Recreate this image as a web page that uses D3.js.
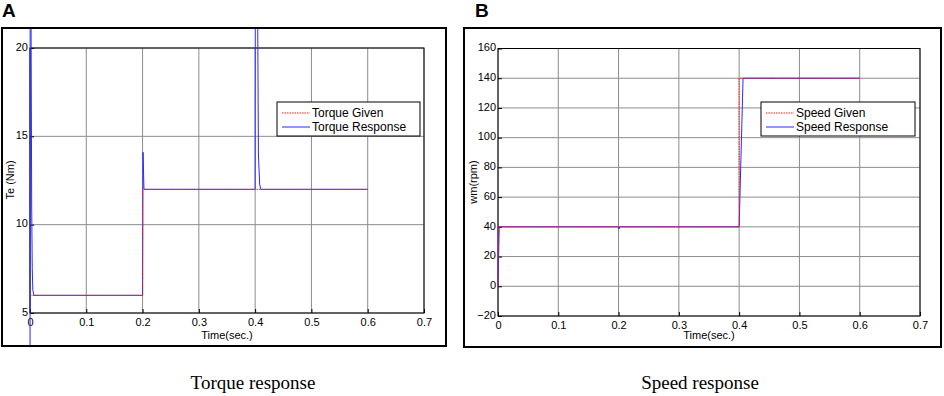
<!DOCTYPE html>
<html>
<head>
<meta charset="utf-8">
<script src="https://cdn.jsdelivr.net/npm/d3@7"></script>
<style>
  body { margin: 0; background: #fff; }
  svg { display: block; font-family: "Liberation Sans", Arial, sans-serif; }
</style>
</head>
<body>
<div id="chart"></div>
<script>
// ---- data ----
const xTicks = [0, 0.1, 0.2, 0.3, 0.4, 0.5, 0.6, 0.7];

// panel A: torque
const torqueTicks = [5, 10, 15, 20];
const torqueGivenT = [0, 0.2, 0.2, 0.6];
const torqueGivenV = [6, 6, 12, 12];
const torqueRespT = [0, 0.0005, 0.002, 0.003, 0.004, 0.005, 0.007, 0.2, 0.2008, 0.2025, 0.4, 0.4008, 0.4058, 0.408, 0.41, 0.6];
const torqueRespV = [-3, 40, 20, 11, 7.5, 6.3, 6, 6, 14.1, 12, 12, 45, 14, 12.3, 12, 12];

// panel B: speed
const speedTicks = [-20, 0, 20, 40, 60, 80, 100, 120, 140, 160];
const speedGivenT = [0, 0, 0.4, 0.4, 0.6];
const speedGivenV = [0, 40, 40, 140, 140];
const speedRespT = [0, 0.002, 0.2, 0.2006, 0.202, 0.4, 0.4065, 0.6];
const speedRespV = [0, 40, 40, 38.5, 40, 40, 140, 140];

const W = 944, H = 396;
const svg = d3.select("#chart").append("svg")
    .attr("width", W)
    .attr("height", H);

function drawPanel(p) {
    let g = svg.append("g");

    // outer frame
    g.append("rect")
        .attr("x", p.frame[0]).attr("y", p.frame[1])
        .attr("width", p.frame[2] - p.frame[0]).attr("height", p.frame[3] - p.frame[1])
        .attr("fill", "#fff").attr("stroke", "#000").attr("stroke-width", 2);

    // panel letter
    g.append("text")
        .attr("x", p.letterX).attr("y", 17)
        .attr("font-size", "19px").attr("font-weight", "bold")
        .text(p.letter);

    let x = d3.scaleLinear().domain([0, 0.7]).range(p.xRange);
    let y = d3.scaleLinear().domain(p.yDomain).range(p.yRange);

    // grid
    g.append("g").selectAll("line.vg").data(xTicks).join("line")
        .attr("x1", d => x(d)).attr("x2", d => x(d))
        .attr("y1", y.range()[0]).attr("y2", y.range()[1])
        .attr("stroke", "#8c8c8c").attr("stroke-width", 1);
    g.append("g").selectAll("line.hg").data(p.yTicks).join("line")
        .attr("x1", x.range()[0]).attr("x2", x.range()[1])
        .attr("y1", d => y(d)).attr("y2", d => y(d))
        .attr("stroke", "#8c8c8c").attr("stroke-width", 1);

    // axes, ticks inward like matlab
    let xAxis = g.append("g")
        .attr("transform", `translate(0,${y.range()[0]})`)
        .call(d3.axisBottom(x).tickValues(xTicks).tickSize(-4).tickPadding(7).tickFormat(d3.format("")));
    let yAxis = g.append("g")
        .attr("transform", `translate(${x.range()[0]},0)`)
        .call(d3.axisLeft(y).tickValues(p.yTicks).tickSize(-4).tickPadding(2));
    [xAxis, yAxis].forEach(a => {
        a.select(".domain").remove();
        a.selectAll("text").attr("font-size", "11px").attr("fill", "#000")
            .attr("font-family", "Liberation Sans, Arial, sans-serif");
        a.selectAll("line").attr("stroke", "#000");
    });
    yAxis.selectAll("text").attr("dy", "0.2em");
    xAxis.selectAll("text").attr("dy", "0.55em");

    // axes box
    g.append("rect")
        .attr("x", x.range()[0]).attr("y", y.range()[1])
        .attr("width", x.range()[1] - x.range()[0]).attr("height", y.range()[0] - y.range()[1])
        .attr("fill", "none").attr("stroke", "#000").attr("stroke-width", 1);

    // clip lines to inside of frame (they overshoot the axes as in the picture)
    let clipId = "clip" + p.letter;
    svg.append("clipPath").attr("id", clipId).append("rect")
        .attr("x", p.frame[0] + 1).attr("y", p.frame[1] + 1)
        .attr("width", p.frame[2] - p.frame[0] - 2).attr("height", p.frame[3] - p.frame[1] - 2);

    let line = d3.line().x(d => x(d[0])).y(d => y(d[1]));
    let given = p.givenT.map((t, i) => [t, p.givenV[i]]);
    let resp = p.respT.map((t, i) => [t, p.respV[i]]);

    let lines = g.append("g").attr("clip-path", `url(#${clipId})`);
    lines.append("path").datum(resp)
        .attr("d", line).attr("fill", "none")
        .attr("stroke", "#2a2aff").attr("stroke-width", 1);
    lines.append("path").datum(given)
        .attr("d", line).attr("fill", "none")
        .attr("stroke", "#ff1a1a").attr("stroke-width", 1)
        .attr("stroke-dasharray", "1.5,1");

    // axis labels
    g.append("text")
        .attr("x", (x.range()[0] + x.range()[1]) / 2).attr("y", 339)
        .attr("text-anchor", "middle").attr("font-size", "11px")
        .text("Time(sec.)");
    g.append("text")
        .attr("transform", `translate(${p.yLabelX},${p.yLabelY}) rotate(-90)`)
        .attr("text-anchor", "middle").attr("font-size", "11px")
        .text(p.yLabel);

    // legend
    let lg = g.append("g").attr("transform", `translate(${p.legend[0]},${p.legend[1]})`);
    lg.append("rect")
        .attr("width", p.legend[2]).attr("height", 34)
        .attr("fill", "#fff").attr("stroke", "#000").attr("stroke-width", 1);
    p.legendNames.forEach((name, i) => {
        let yy = 11 + i * 14;
        lg.append("line")
            .attr("x1", 5).attr("x2", 33).attr("y1", yy).attr("y2", yy)
            .attr("stroke", i === 0 ? "#ff1a1a" : "#2a2aff")
            .attr("stroke-dasharray", i === 0 ? "1.5,1" : null);
        lg.append("text")
            .attr("x", 35).attr("y", yy + 4)
            .attr("font-size", "12px")
            .text(name);
    });

    // caption
    svg.append("text")
        .attr("x", p.captionX).attr("y", 389)
        .attr("text-anchor", "middle")
        .attr("font-family", "Liberation Serif, Times New Roman, serif")
        .attr("font-size", "19px")
        .text(p.caption);
}

drawPanel({
    letter: "A", letterX: 2,
    frame: [2, 28, 446, 346],
    xRange: [30, 424], yDomain: [5, 20], yRange: [313, 48],
    yTicks: torqueTicks,
    givenT: torqueGivenT, givenV: torqueGivenV,
    respT: torqueRespT, respV: torqueRespV,
    yLabel: "Te (Nm)", yLabelX: 14, yLabelY: 180,
    legend: [277, 102, 143],
    legendNames: ["Torque Given", "Torque Response"],
    caption: "Torque response", captionX: 253
});

drawPanel({
    letter: "B", letterX: 475,
    frame: [464, 28, 941, 347],
    xRange: [498, 920], yDomain: [-20, 160], yRange: [316, 48.5],
    yTicks: speedTicks,
    givenT: speedGivenT, givenV: speedGivenV,
    respT: speedRespT, respV: speedRespV,
    yLabel: "wm(rpm)", yLabelX: 477, yLabelY: 182,
    legend: [761, 102, 154],
    legendNames: ["Speed Given", "Speed Response"],
    caption: "Speed response", captionX: 700
});
</script>
</body>
</html>
